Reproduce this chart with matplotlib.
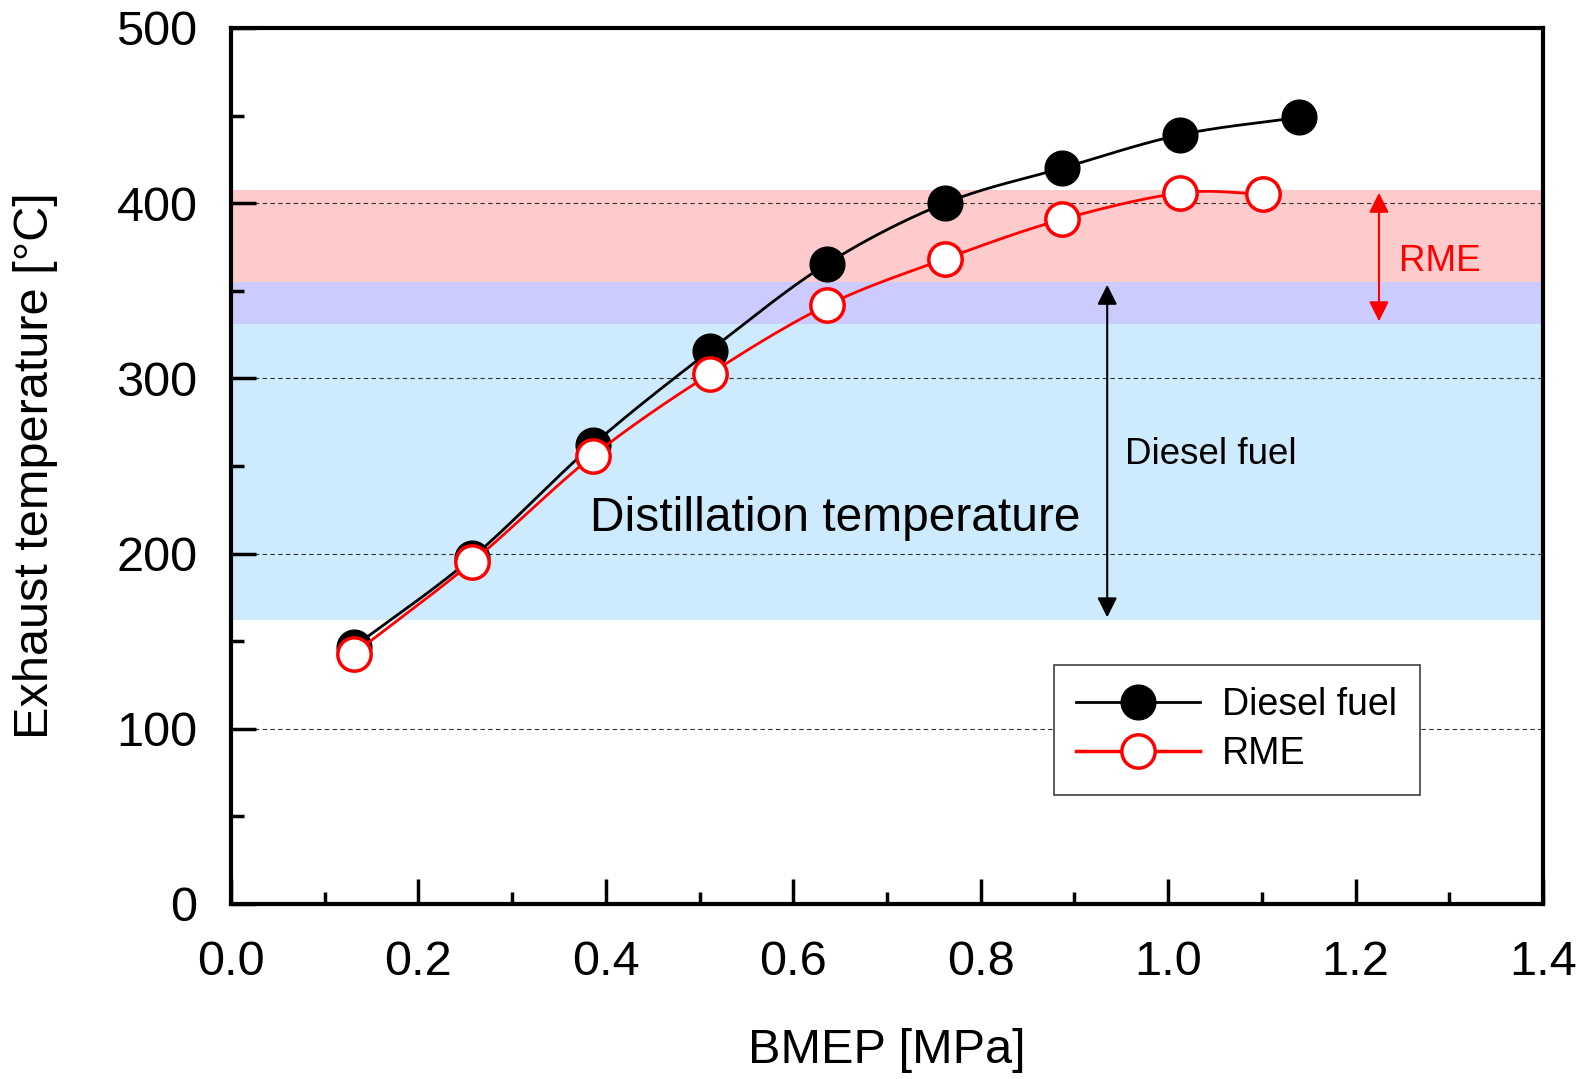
import numpy as np
import matplotlib.pyplot as plt
from matplotlib.ticker import MultipleLocator

plt.rcParams['font.family'] = ['Liberation Sans', 'DejaVu Sans']

# BMEP [MPa] and exhaust temperature [degC]
bmep_diesel = [0.131, 0.257, 0.386, 0.511, 0.636, 0.762, 0.887, 1.013, 1.140]
temp_diesel = [146.7, 197.5, 262.0, 315.8, 365.4, 400.0, 420.0, 439.0, 449.0]
bmep_rme = [0.131, 0.257, 0.386, 0.511, 0.636, 0.762, 0.887, 1.013, 1.101]
temp_rme = [142.7, 195.0, 255.7, 302.5, 341.7, 368.2, 390.8, 405.8, 405.2]

# distillation temperature ranges
diesel_range = (162, 355)
rme_range = (331, 407.5)


def smooth(x, y, n=24):
    # Catmull-Rom curve through the points, for the drawn line only
    x = np.asarray(x, float)
    y = np.asarray(y, float)
    px = np.concatenate([[2 * x[0] - x[1]], x, [2 * x[-1] - x[-2]]])
    py = np.concatenate([[2 * y[0] - y[1]], y, [2 * y[-1] - y[-2]]])
    t = np.linspace(0, 1, n)
    xs, ys = [], []
    for i in range(1, len(px) - 2):
        for p, out in ((px, xs), (py, ys)):
            p0, p1, p2, p3 = p[i - 1], p[i], p[i + 1], p[i + 2]
            out.extend(0.5 * (2 * p1 + (-p0 + p2) * t
                              + (2 * p0 - 5 * p1 + 4 * p2 - p3) * t ** 2
                              + (-p0 + 3 * p1 - 3 * p2 + p3) * t ** 3))
    return xs, ys


fig = plt.figure(figsize=(15.85, 10.79), dpi=100)
ax = fig.add_axes([0.1457, 0.1622, 0.8278, 0.8119])

# bands
ax.axhspan(diesel_range[0], rme_range[0], color='#cdebfd', lw=0, zorder=0)
ax.axhspan(rme_range[0], diesel_range[1], color='#cccbfd', lw=0, zorder=0)
ax.axhspan(diesel_range[1], rme_range[1], color='#fdcbcb', lw=0, zorder=0)

for yv in [100, 200, 300, 400]:
    ax.axhline(yv, color='#333333', lw=0.8, ls=(0, (4, 3)), zorder=1)

xs, ys = smooth(bmep_diesel, temp_diesel)
ax.plot(xs, ys, color='black', lw=2, zorder=3)
ax.plot(bmep_diesel, temp_diesel, 'o', color='black', ms=25, zorder=4)
xs, ys = smooth(bmep_rme, temp_rme)
ax.plot(xs, ys, color='#ff0000', lw=2, zorder=5)
ax.plot(bmep_rme, temp_rme, 'o', mfc='white', mec='#ff0000', mew=2.5, ms=24, zorder=6)

# legend handles
ax.plot([], [], '-o', color='black', lw=2, ms=25, label='Diesel fuel')
ax.plot([], [], '-o', color='#ff0000', mfc='white', mec='#ff0000', mew=2.5, lw=2.5, ms=24, label='RME')
handles, labels = ax.get_legend_handles_labels()
leg = ax.legend(handles, labels, loc='upper left', bbox_to_anchor=(0.627, 0.273),
                borderaxespad=0, fontsize=27, handlelength=3.3, handletextpad=0.6,
                fancybox=False, framealpha=1, edgecolor='#404040', borderpad=0.6,
                labelspacing=0.35)
leg.get_frame().set_linewidth(1.2)

# range arrows
ax.annotate('', xy=(0.935, diesel_range[0]), xytext=(0.935, diesel_range[1]),
            arrowprops=dict(arrowstyle='<|-|>', color='black', lw=1.5, mutation_scale=30))
ax.annotate('', xy=(1.225, rme_range[0]), xytext=(1.225, rme_range[1]),
            arrowprops=dict(arrowstyle='<|-|>', color='#ff0000', lw=1.5, mutation_scale=30))
ax.text(0.954, 256.6, 'Diesel fuel', fontsize=26.5, va='center', ha='left')
ax.text(1.2465, 366.5, 'RME', fontsize=26.5, va='center', ha='left', color='#ff0000')
ax.text(0.645, 219.8, 'Distillation temperature', fontsize=34.5, va='center', ha='center')

ax.set_xlim(0, 1.4)
ax.set_ylim(0, 500)
ax.xaxis.set_major_locator(MultipleLocator(0.2))
ax.xaxis.set_minor_locator(MultipleLocator(0.1))
ax.yaxis.set_major_locator(MultipleLocator(100))
ax.yaxis.set_minor_locator(MultipleLocator(50))
ax.set_xticklabels([f'{v:.1f}' for v in ax.get_xticks()])
ax.tick_params(which='both', direction='in', width=2.5, top=False, right=False,
               labelsize=35)
ax.tick_params(which='major', length=18)
ax.tick_params(which='minor', length=9)
ax.tick_params(axis='x', which='major', pad=26)
ax.tick_params(axis='y', which='major', pad=24)
for s in ax.spines.values():
    s.set_linewidth(3)

ax.set_xlabel('BMEP [MPa]', fontsize=35, labelpad=31)
ax.set_ylabel('Exhaust temperature [°C]', fontsize=35, labelpad=42)

fig.savefig('out.png', dpi=100)
